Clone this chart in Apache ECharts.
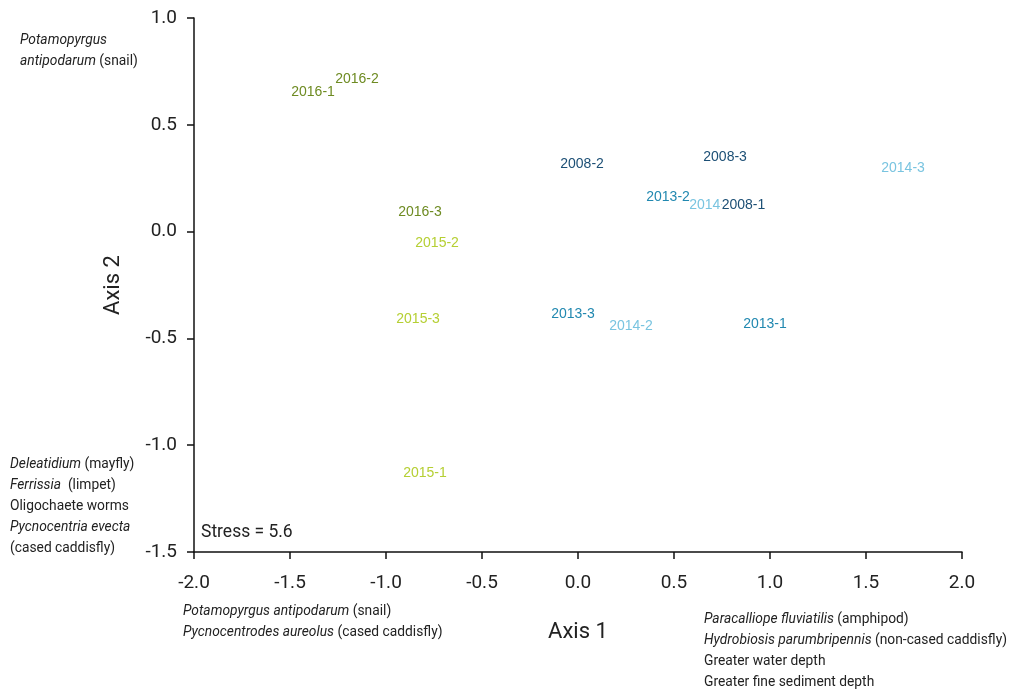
<!DOCTYPE html>
<html><head><meta charset="utf-8">
<script src="https://cdn.jsdelivr.net/npm/echarts@6/dist/echarts.min.js"></script>
<style>html,body{margin:0;padding:0;background:#fff}#c{width:1011px;height:695px}</style>
</head><body><div id="c"></div>
<script>
const xTicks = [-2.0, -1.5, -1.0, -0.5, 0.0, 0.5, 1.0, 1.5, 2.0];
const yTicks = [-1.5, -1.0, -0.5, 0.0, 0.5, 1.0];
const groups = ['2016', '2015', '2014', '2013', '2008'];
const groupColors = ['#6e8b22', '#b5cf33', '#79c4e0', '#2188b0', '#1c4f75'];
const samples2016 = [['2016-1', -1.38, 0.654], ['2016-2', -1.151, 0.714], ['2016-3', -0.823, 0.092]];
const samples2015 = [['2015-1', -0.797, -1.130], ['2015-2', -0.734, -0.053], ['2015-3', -0.833, -0.409]];
const samples2014 = [['2014-1', 0.693, 0.125], ['2014-2', 0.276, -0.441], ['2014-3', 1.693, 0.298]];
const samples2013 = [['2013-1', 0.974, -0.432], ['2013-2', 0.469, 0.162], ['2013-3', -0.026, -0.385]];
const samples2008 = [['2008-1', 0.862, 0.125], ['2008-2', 0.021, 0.316], ['2008-3', 0.766, 0.349]];
const sampleSets = [samples2016, samples2015, samples2014, samples2013, samples2008];

const cond = "Roboto, 'Liberation Sans', sans-serif";
const chart = echarts.init(document.getElementById('c'));

const series = groups.map((g, i) => ({
  name: g,
  type: 'scatter',
  symbolSize: 0,
  z: 2 + i,
  itemStyle: { opacity: 1, color: groupColors[i] },
  data: sampleSets[i].map(s => {
    const item = { name: s[0], value: [s[1], s[2]] };
    if (s[0] === '2008-1') item.label = { backgroundColor: '#fff', padding: [1, 0, 1, 0] };
    return item;
  }),
  label: {
    show: true, position: 'inside', formatter: p => p.name, opacity: 1,
    color: groupColors[i], fontFamily: "'Liberation Sans', Arial, sans-serif", fontSize: 14
  },
  emphasis: { disabled: true }
}));

const SX = 0.92;
const rich = {
  i: { fontStyle: 'italic', fontFamily: cond, fontSize: 15, color: '#222', lineHeight: 21 },
  n: { fontFamily: cond, fontSize: 15, color: '#222', lineHeight: 21 }
};
const rtext = (t, x, y) => ({ type: 'text', x: x, y: y, scaleX: SX, style: { text: t, rich: rich, font: '15px ' + cond, fill: '#222' } });

chart.setOption({
  animation: false,
  grid: { left: 194, right: 49, top: 18, bottom: 143 },
  xAxis: {
    type: 'value', min: -2, max: 2, interval: 0.5,
    axisLine: { show: true, onZero: false, lineStyle: { color: '#111', width: 1.5 } },
    axisTick: { show: true, inside: false, length: 7, lineStyle: { color: '#111', width: 1.5 } },
    splitLine: { show: false },
    axisLabel: { formatter: v => v.toFixed(1), color: '#222', fontSize: 19, fontFamily: cond, margin: 22 },
    name: 'Axis 1', nameLocation: 'middle', nameGap: 69,
    nameTextStyle: { fontSize: 22, fontFamily: cond, color: '#222' }
  },
  yAxis: {
    type: 'value', min: -1.5, max: 1.0, interval: 0.5,
    axisLine: { show: true, onZero: false, lineStyle: { color: '#111', width: 1.5 } },
    axisTick: { show: true, inside: false, length: 7, lineStyle: { color: '#111', width: 1.5 } },
    splitLine: { show: false },
    axisLabel: { formatter: v => v.toFixed(1), color: '#222', fontSize: 19, fontFamily: cond, margin: 17 },
    name: 'Axis 2', nameLocation: 'middle', nameGap: 70, nameRotate: 90,
    nameTextStyle: { fontSize: 22, fontFamily: cond, color: '#222' }
  },
  series: series,
  graphic: [
    rtext('{i|Potamopyrgus}\n{i|antipodarum} {n|(snail)}', 20, 30),
    rtext('{i|Deleatidium}{n| (mayfly)}\n{i|Ferrissia} {n| (limpet)}\n{n|Oligochaete worms}\n{i|Pycnocentria evecta}\n{n|(cased caddisfly)}', 10, 454),
    { type: 'text', x: 201, y: 523, scaleX: SX, style: { text: 'Stress = 5.6', font: '19px ' + cond, fill: '#222' } },
    rtext('{i|Potamopyrgus antipodarum}{n| (snail)}\n{i|Pycnocentrodes aureolus}{n| (cased caddisfly)}', 183, 601),
    rtext('{i|Paracalliope fluviatilis}{n| (amphipod)}\n{i|Hydrobiosis parumbripennis}{n| (non-cased caddisfly)}\n{n|Greater water depth}\n{n|Greater fine sediment depth}', 704, 609)
  ]
});
</script></body></html>
